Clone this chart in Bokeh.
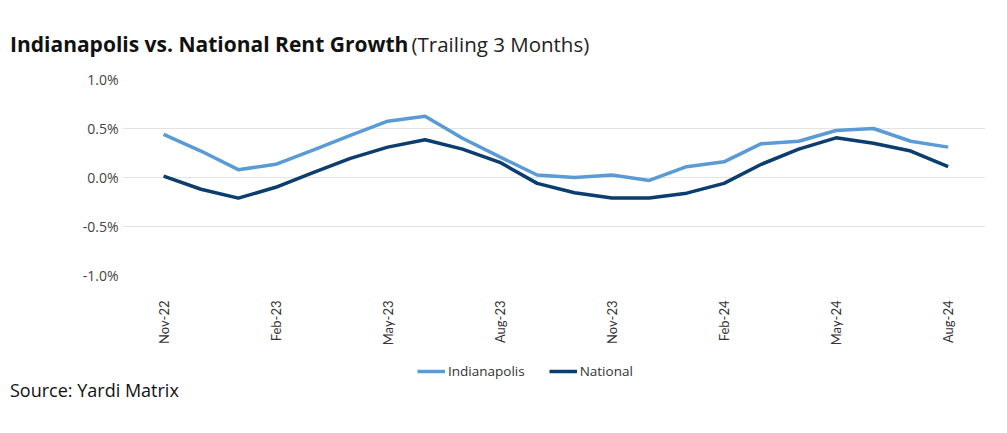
import math
from bokeh.plotting import figure
from bokeh.layouts import column
from bokeh.models import (ColumnDataSource, Legend, LegendItem, FixedTicker, Range1d, Div)
from bokeh.embed import file_html
from bokeh.resources import INLINE

months = ["Nov-22", "Dec-22", "Jan-23", "Feb-23", "Mar-23", "Apr-23", "May-23", "Jun-23",
          "Jul-23", "Aug-23", "Sep-23", "Oct-23", "Nov-23", "Dec-23", "Jan-24", "Feb-24",
          "Mar-24", "Apr-24", "May-24", "Jun-24", "Jul-24", "Aug-24"]
indianapolis = [0.44, 0.27, 0.08, 0.135, 0.28, 0.43, 0.575, 0.625, 0.40, 0.21, 0.025, 0.0,
                0.025, -0.03, 0.11, 0.16, 0.345, 0.37, 0.48, 0.50, 0.37, 0.31]
national = [0.015, -0.12, -0.21, -0.10, 0.05, 0.195, 0.31, 0.385, 0.29, 0.155, -0.06, -0.155,
            -0.21, -0.21, -0.16, -0.06, 0.135, 0.29, 0.405, 0.35, 0.27, 0.11]
y_ticks = [-1.0, -0.5, 0.0, 0.5, 1.0]
y_tick_labels = ["-1.0%", "-0.5%", "0.0%", "0.5%", "1.0%"]
x_tick_idx = [0, 3, 6, 9, 12, 15, 18, 21]
series_names = ["Indianapolis", "National"]
series_colors = ["#5B9BD5", "#0B3D6F"]
title_main = "Indianapolis vs. National Rent Growth"
title_sub = "(Trailing 3 Months)"
source_text = "Source: Yardi Matrix"

FONT = "Open Sans"
AXFONT = "Lato"
src = ColumnDataSource(dict(x=list(range(len(months))), ind=indianapolis, nat=national))

title_div = Div(
    text=(f'<div style="position:absolute; left:10px; top:34px; white-space:nowrap; '
          f'font-family:\'{FONT}\'; color:#111; line-height:1;">'
          f'<span style="font-weight:bold; font-size:21px;">{title_main}</span> '
          f'<span style="font-size:20.5px; color:#222;">{title_sub}</span></div>'),
    width=1007, height=60, margin=(0, 0, 0, 0))

p = figure(width=1007, height=300, output_backend="svg", toolbar_location=None,
           x_range=Range1d(-1.1, 22.0), y_range=Range1d(-1.0, 1.0),
           min_border_left=122, min_border_right=22, min_border_top=19, min_border_bottom=85,
           margin=(0, 0, 0, 0))
p.outline_line_color = None
p.background_fill_color = "white"
p.border_fill_color = "white"

p.line("x", "ind", source=src, line_color=series_colors[0], line_width=3.5)
p.line("x", "nat", source=src, line_color=series_colors[1], line_width=3.5)

p.yaxis.ticker = FixedTicker(ticks=y_ticks)
p.yaxis.major_label_overrides = {t: l for t, l in zip(y_ticks, y_tick_labels)}
p.yaxis.axis_line_color = None
p.yaxis.major_tick_line_color = None
p.yaxis.minor_tick_line_color = None
p.yaxis.major_tick_out = 0
p.yaxis.major_tick_in = 0
p.yaxis.major_label_text_font = FONT
p.yaxis.major_label_text_font_size = "14px"
p.yaxis.major_label_text_color = "#444444"
p.yaxis.major_label_standoff = 4

p.xaxis.ticker = FixedTicker(ticks=x_tick_idx)
p.xaxis.major_label_overrides = {i: months[i] for i in x_tick_idx}
p.xaxis.major_label_orientation = math.pi / 2
p.xaxis.axis_line_color = None
p.xaxis.major_tick_line_color = None
p.xaxis.minor_tick_line_color = None
p.xaxis.major_tick_out = 0
p.xaxis.major_tick_in = 0
p.xaxis.major_label_text_font = AXFONT
p.xaxis.major_label_text_font_size = "13px"
p.xaxis.major_label_text_color = "#333333"
p.xaxis.major_label_standoff = 25

p.xgrid.grid_line_color = None
p.ygrid.ticker = FixedTicker(ticks=y_ticks)
p.ygrid.grid_line_color = "#e3e3e3"
p.ygrid.grid_line_width = 1

# legend strip: a small figure whose lines lie out of view, only its legend shows
lg = figure(width=1007, height=22, output_backend="svg", toolbar_location=None,
            x_range=Range1d(1000, 1001), y_range=Range1d(0, 1),
            min_border_left=122, min_border_right=22, min_border_top=0, min_border_bottom=0,
            margin=(0, 0, 0, 0))
lg.axis.visible = False
lg.grid.visible = False
lg.outline_line_color = None
lr1 = lg.line("x", "ind", source=src, line_color=series_colors[0], line_width=3.5)
lr2 = lg.line("x", "nat", source=src, line_color=series_colors[1], line_width=3.5)
legend = Legend(items=[LegendItem(label=series_names[0], renderers=[lr1]),
                       LegendItem(label=series_names[1], renderers=[lr2])],
                orientation="horizontal", location=(295, 2),
                padding=0, margin=0, spacing=24, label_standoff=3,
                glyph_width=28, glyph_height=16,
                label_text_font=FONT, label_text_font_size="13.5px",
                label_text_color="#333333", border_line_color=None,
                background_fill_alpha=0)
lg.add_layout(legend, "center")

source_div = Div(
    text=(f'<div style="position:absolute; left:10px; top:-1px; white-space:nowrap; '
          f'font-family:\'{FONT}\'; font-size:18px; color:#111; line-height:1;">{source_text}</div>'),
    width=1007, height=40, margin=(0, 0, 0, 0))

layout = column(title_div, p, lg, source_div, spacing=0)
open("out.html", "w").write(file_html(layout, INLINE))
